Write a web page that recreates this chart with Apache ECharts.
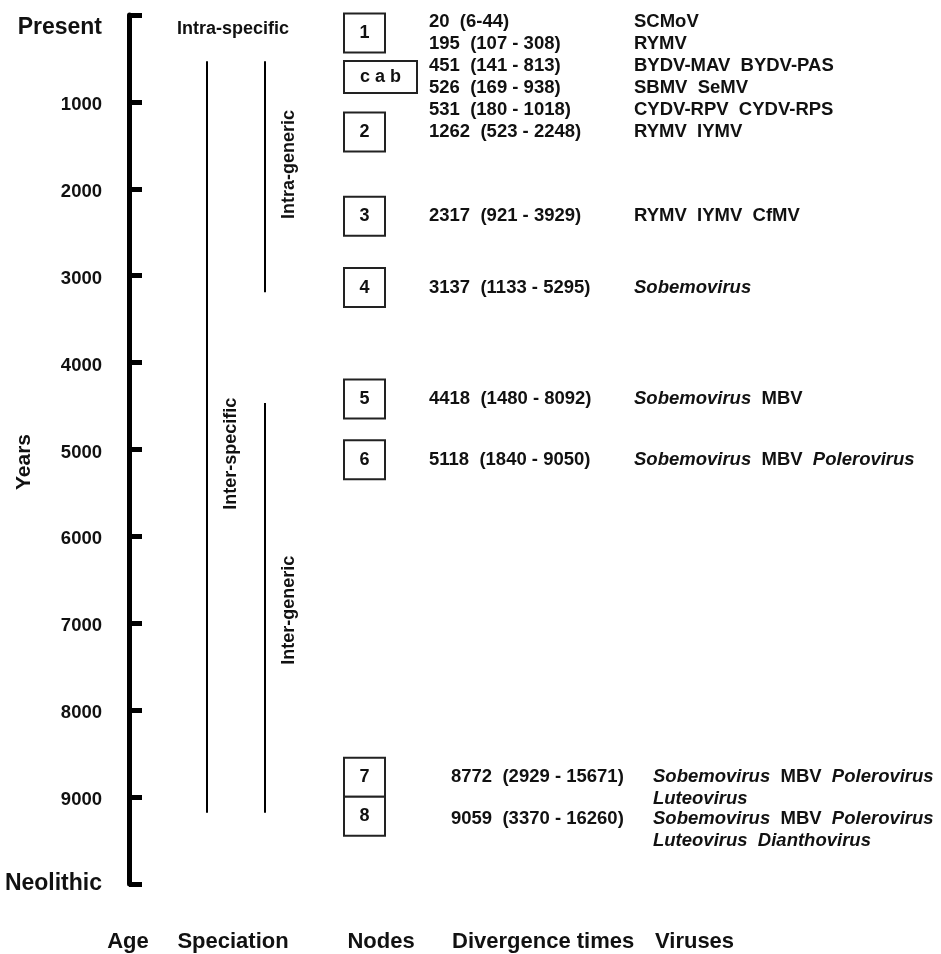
<!DOCTYPE html>
<html>
<head>
<meta charset="utf-8">
<script src="https://cdn.jsdelivr.net/npm/echarts@6/dist/echarts.min.js"></script>
<style>
  html, body { margin: 0; padding: 0; background: #fff; }
  #main { width: 941px; height: 954px; }
</style>
</head>
<body>
<div id="main"></div>
<script>
// divergence times (years before present) with their intervals
const divTimes = [20, 195, 451, 526, 531, 1262, 2317, 3137, 4418, 5118, 8772, 9059];
const ciLow = [6, 107, 141, 169, 180, 523, 921, 1133, 1480, 1840, 2929, 3370];
const ciHigh = [44, 308, 813, 938, 1018, 2248, 3929, 5295, 8092, 9050, 15671, 16260];
const viruses = [
  ['SCMoV'],
  ['RYMV'],
  ['BYDV-MAV  BYDV-PAS'],
  ['SBMV  SeMV'],
  ['CYDV-RPV  CYDV-RPS'],
  ['RYMV  IYMV'],
  ['RYMV  IYMV  CfMV'],
  ['Sobemovirus'],
  ['Sobemovirus  MBV'],
  ['Sobemovirus  MBV  Polerovirus'],
  ['Sobemovirus  MBV  Polerovirus', 'Luteovirus'],
  ['Sobemovirus  MBV  Polerovirus', 'Luteovirus  Dianthovirus']
];

// nodes and the rows (divergence times) each one stands for
const nodeNames = ['1', 'c a b', '2', '3', '4', '5', '6', '7', '8'];
const nodeRows = [[0, 1], [2, 3], [5], [6], [7], [8], [9], [10], [11]];

// speciation periods
const specNames = ['Inter-specific', 'Intra-generic', 'Inter-generic'];
const specFrom = [531, 531, 4465];
const specTo = [9180, 3190, 9180];

// age axis
const ageMin = 0, ageMax = 10000, ageStep = 1000;

const FONT = '"Liberation Sans", Arial, sans-serif';
const INK = '#111';

// layout (pixel columns, x axis runs in pixels)
const colSpec = [207, 265, 265];
const specLabelAt = [5050, 1720, 6850];
const colNode = 344, colTime = 429, colVirus = 634;

const chart = echarts.init(document.getElementById('main'));

// rows sit at their time on the axis, pushed down when they would overlap
function rowPositions(api) {
  const ys = [];
  const top = api.coord([colTime, ageMin])[1] + 7;
  for (let i = 0; i < divTimes.length; i++) {
    let y = api.coord([colTime, divTimes[i]])[1];
    if (i === 0) y = Math.max(y, top);
    else y = Math.max(y, ys[i - 1] + 22 + 20 * (viruses[i - 1].length - 1));
    ys.push(y);
  }
  return ys;
}

// node boxes, stacked onto the previous one when they nearly touch
function boxPositions(api) {
  const ys = rowPositions(api);
  const boxes = [];
  nodeNames.forEach((name, k) => {
    const rows = nodeRows[k];
    const cy = rows.reduce((s, r) => s + ys[r], 0) / rows.length;
    const wide = name.length > 1;
    const w = wide ? 73 : 41, h = wide ? 32 : 39;
    let top = cy - h / 2;
    const prev = boxes[k - 1];
    if (prev && top < prev.top + prev.h + 6) top = prev.top + prev.h;
    boxes.push({ top: top, w: w, h: h });
  });
  return boxes;
}

const txt = (size, extra) => Object.assign({
  fontFamily: FONT, fontWeight: 'bold', fontSize: size, fill: INK, color: INK
}, extra || {});

const richVirus = {
  n: txt(18.5, { lineHeight: 22 }),
  i: txt(18.5, { fontStyle: 'italic', lineHeight: 22 })
};

function virusRich(lines) {
  return lines.map(line => line.split('  ').map(w =>
    /virus$/.test(w) ? '{i|' + w + '}' : '{n|' + w + '}').join('{n|  }')).join('\n');
}

chart.setOption({
  animation: false,
  grid: { left: 129, right: 0, top: 15, bottom: 70 },
  xAxis: { type: 'value', min: 129, max: 941, show: false },
  yAxis: {
    type: 'value', inverse: true, min: ageMin, max: ageMax, interval: ageStep,
    axisLine: { show: true, onZero: false, lineStyle: { color: '#000', width: 5 } },
    axisTick: { show: true, inside: true, length: 13, lineStyle: { color: '#000', width: 5 } },
    splitLine: { show: false },
    axisLabel: {
      margin: 27,
      formatter: v => v === ageMin ? '{p|Present}' : v === ageMax ? '{w|Neolithic}' : '{n|' + v + '}',
      rich: {
        p: { fontFamily: FONT, fontWeight: 'bold', fontSize: 23, color: INK, padding: [26, 0, 0, 0] },
        w: { fontFamily: FONT, fontWeight: 'bold', fontSize: 23, color: INK },
        n: { fontFamily: FONT, fontWeight: 'bold', fontSize: 18.5, color: INK, padding: [6, 0, 0, 0] }
      }
    }
  },
  graphic: [
    { type: 'text', x: 24, y: 462, rotation: Math.PI / 2,
      style: txt(21, { text: 'Years', align: 'center', verticalAlign: 'middle' }) },
    { type: 'text', x: 233, y: 29,
      style: txt(18, { text: 'Intra-specific', align: 'center', verticalAlign: 'middle' }) },
    { type: 'text', x: 128, y: 942, style: txt(22, { text: 'Age', align: 'center', verticalAlign: 'middle' }) },
    { type: 'text', x: 233, y: 942, style: txt(22, { text: 'Speciation', align: 'center', verticalAlign: 'middle' }) },
    { type: 'text', x: 381, y: 942, style: txt(22, { text: 'Nodes', align: 'center', verticalAlign: 'middle' }) },
    { type: 'text', x: 452, y: 942, style: txt(22, { text: 'Divergence times', align: 'left', verticalAlign: 'middle' }) },
    { type: 'text', x: 655, y: 942, style: txt(22, { text: 'Viruses', align: 'left', verticalAlign: 'middle' }) }
  ],
  series: [
    {
      // speciation bars
      type: 'custom',
      data: specNames.map((n, i) => [colSpec[i], specFrom[i], specTo[i], specLabelAt[i]]),
      renderItem: (params, api) => {
        const a = api.coord([api.value(0), api.value(1)]);
        const b = api.coord([api.value(0), api.value(2)]);
        const l = api.coord([api.value(0), api.value(3)]);
        return {
          type: 'group',
          children: [
            { type: 'line', shape: { x1: a[0], y1: a[1], x2: b[0], y2: b[1] },
              style: { stroke: '#000', lineWidth: 2 } },
            { type: 'text', x: a[0] + 24, y: l[1], rotation: Math.PI / 2,
              style: txt(18, { text: specNames[params.dataIndex], align: 'center', verticalAlign: 'middle' }) }
          ]
        };
      }
    },
    {
      // divergence times and viruses
      type: 'custom',
      data: divTimes.map((t, i) => [colTime, t, ciLow[i], ciHigh[i]]),
      renderItem: (params, api) => {
        const i = params.dataIndex;
        const y = rowPositions(api)[i];
        const long = String(ciHigh[i]).length > 4;
        const sep = ciHigh[i] < 100 ? '-' : ' - ';
        return {
          type: 'group',
          children: [
            { type: 'text', x: colTime + (long ? 22 : 0), y: y,
              style: txt(18.5, { text: divTimes[i] + '  (' + ciLow[i] + sep + ciHigh[i] + ')', align: 'left', verticalAlign: 'middle' }) },
            { type: 'text', x: colVirus + (long ? 19 : 0), y: y - 11,
              style: txt(18.5, { text: virusRich(viruses[i]), rich: richVirus, lineHeight: 22, align: 'left', verticalAlign: 'top' }) }
          ]
        };
      }
    },
    {
      // node boxes
      type: 'custom',
      data: nodeNames.map((n, k) => [colNode, divTimes[nodeRows[k][0]]]),
      renderItem: (params, api) => {
        const k = params.dataIndex;
        const box = boxPositions(api)[k];
        return {
          type: 'group',
          children: [
            { type: 'rect', shape: { x: colNode, y: box.top, width: box.w, height: box.h },
              style: { fill: '#fff', stroke: '#222', lineWidth: 2 } },
            { type: 'text', x: colNode + box.w / 2, y: box.top + box.h / 2,
              style: txt(18, { text: nodeNames[k], align: 'center', verticalAlign: 'middle' }) }
          ]
        };
      }
    }
  ]
});
</script>
</body>
</html>
